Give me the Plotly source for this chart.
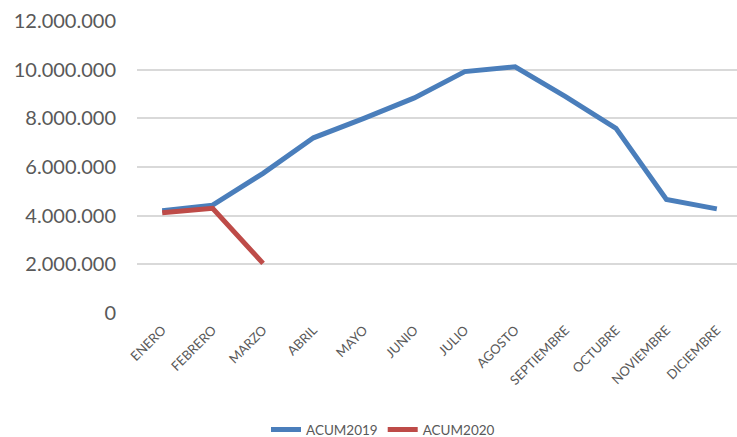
import plotly.graph_objects as go

months = ["ENERO", "FEBRERO", "MARZO", "ABRIL", "MAYO", "JUNIO", "JULIO",
          "AGOSTO", "SEPTIEMBRE", "OCTUBRE", "NOVIEMBRE", "DICIEMBRE"]
acum2019 = [4200000, 4430000, 5740000, 7200000, 8000000, 8840000, 9920000,
            10120000, 8890000, 7590000, 4670000, 4280000]
acum2020 = [4120000, 4300000, 2040000]

ytick_vals = [0, 2000000, 4000000, 6000000, 8000000, 10000000, 12000000]
ytick_text = ["0", "2.000.000", "4.000.000", "6.000.000", "8.000.000", "10.000.000", "12.000.000"]

fig = go.Figure()
fig.add_trace(go.Scatter(x=months, y=acum2019, mode="lines", name="ACUM2019",
                         line=dict(color="#4A7EBB", width=5)))
fig.add_trace(go.Scatter(x=months[:len(acum2020)], y=acum2020, mode="lines", name="ACUM2020",
                         line=dict(color="#BE4B48", width=5)))

fig.update_layout(
    width=737, height=437,
    margin=dict(l=137, r=0, t=21, b=124, autoexpand=False),
    paper_bgcolor="white", plot_bgcolor="white",
    font=dict(family="Lato, Open Sans, sans-serif", color="#595959"),
    showlegend=True,
    legend=dict(orientation="h", x=0.41, xanchor="center", y=-0.4, yanchor="middle",
                font=dict(size=13.5, color="#595959"), itemwidth=30,
                tracegroupgap=0),
    xaxis=dict(categoryorder="array", categoryarray=months, automargin=False,
               range=[-0.5, 11.4], tickangle=-45, tickfont=dict(size=13, color="#595959"),
               showgrid=False, showline=False, zeroline=False, ticks="",
               ticklabelstandoff=6),
    yaxis=dict(range=[0, 12000000], tickvals=ytick_vals, ticktext=ytick_text,
               automargin=False,
               tickfont=dict(size=20, color="#595959"), showgrid=True,
               gridcolor="#D9D9D9", gridwidth=1.5, zeroline=False, showline=False,
               ticks="", ticklabelstandoff=20),
)

fig.write_html("out.html", config={"displayModeBar": False},
               post_script="document.body.style.margin='0';document.body.style.overflow='hidden';")
